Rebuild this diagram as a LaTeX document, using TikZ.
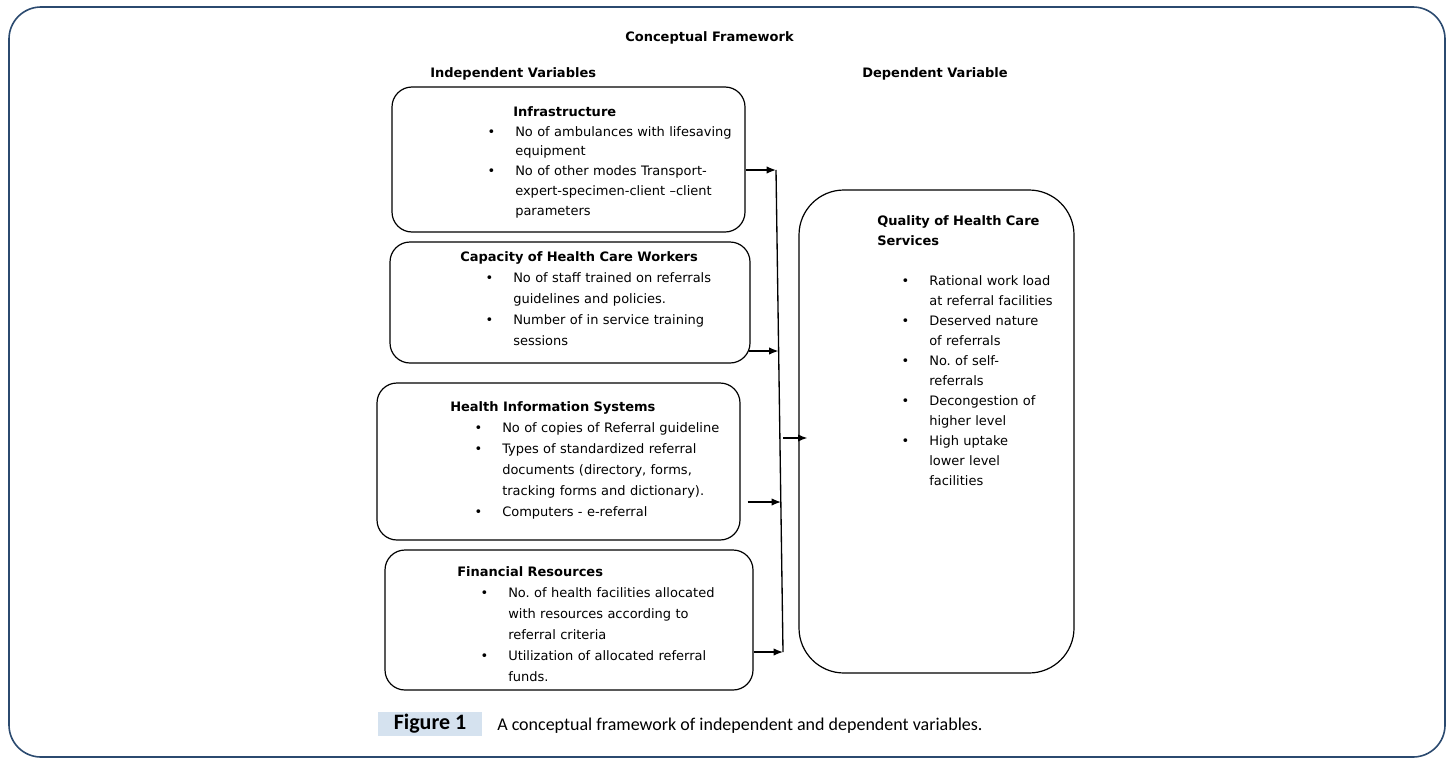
\documentclass[tikz,border=0pt]{standalone}
\usepackage{fontspec}
\setmainfont{DejaVu Sans}
\newfontfamily\capfont{Carlito}
\usetikzlibrary{arrows.meta}
\usepackage{xcolor}

\newdimen\px \px=0.75pt
\definecolor{framecol}{HTML}{2B4A6F}
\definecolor{figfill}{HTML}{D5E2EF}
\newcommand{\hd}[2]{\hspace*{#1\px}\textbf{#2}\par}
\newcommand{\bl}{\leavevmode\llap{\textbullet\hspace{20\px}}}
\setlength{\parindent}{0pt}
\frenchspacing

\begin{document}
\begin{tikzpicture}[x=0.75pt,y=-0.75pt,
	box/.style={draw,line width=0.9pt,rounded corners=20\px,inner sep=0pt},
	list/.style={anchor=base west,inner sep=0pt,text width=250\px,align=left,font=\fontsize{9.75pt}{15.7pt}\selectfont},
	head/.style={anchor=base west,inner sep=0pt,font=\fontsize{9.75pt}{12pt}\selectfont\bfseries},
	arr/.style={line width=1pt,-{Latex[length=7pt,width=5.5pt]}}]

\useasboundingbox (0,0) rectangle (1451,760);

\draw[framecol,line width=1.2pt,rounded corners=32\px] (9,7) rectangle (1445,757);%frame

\node[head] (main-title) at (625,41.5) {Conceptual Framework};
\node[head] (indep-title) at (430,77.5) {Independent Variables};
\node[head] (dep-title) at (862,77.5) {Dependent Variable};

% independent variables
\node[box,minimum width=353\px,minimum height=145\px] (infra) at (568.5,159.5) {};
\node[box,minimum width=360\px,minimum height=121\px] (capacity) at (570,302.5) {};
\node[box,minimum width=363\px,minimum height=157\px] (his) at (558.5,461.5) {};
\node[box,minimum width=368\px,minimum height=140\px] (finance) at (569,620) {};

\node[list,font=\fontsize{9.75pt}{14.8pt}\selectfont] (infra-txt) at (515,116.5) {\hd{-2}{Infrastructure}\bl No of ambulances with lifesaving\\equipment\par\bl No of other modes Transport-\\expert-specimen-client --client\\parameters};

\node[list] (capacity-txt) at (513,261.5) {\hd{-53}{Capacity of Health Care Workers}\bl No of staff trained on referrals\\guidelines and policies.\par\bl Number of in service training\\sessions};

\node[list] (his-txt) at (502,411.5) {\hd{-52}{Health Information Systems}\bl No of copies of Referral guideline\par\bl Types of standardized referral\\documents (directory, forms,\\tracking forms and dictionary).\par\bl Computers - e-referral};

\node[list] (finance-txt) at (508,576.5) {\hd{-51}{Financial Resources}\bl No. of health facilities allocated\\with resources according to\\referral criteria\par\bl Utilization of allocated referral\\funds.};

% dependent variable
\node[box,rounded corners=45\px,minimum width=275\px,minimum height=483\px] (quality) at (936.5,431.5) {};

\node[list,text width=140\px,font=\fontsize{9.75pt}{15pt}\selectfont] (quality-txt) at (929,225) {\hd{-52}{Quality of Health Care}\hd{-52}{Services}\vspace{15pt}\bl Rational work load\\at referral facilities\par\bl Deserved nature\\of referrals\par\bl No. of self-\\referrals\par\bl Decongestion of\\higher level\par\bl High uptake\\lower level\\facilities};

% connectors
\coordinate (j1) at (776,170);
\coordinate (j2) at (778.5,351);
\coordinate (j3) at (781,502);
\coordinate (j4) at (783,652);
\coordinate (jm) at (783,438);

\draw[line width=1pt] (j1) -- (j4);%bus
\draw[arr] (infra.east |- j1) -- (j1);
\draw[arr,shorten <=-2\px] (capacity.east |- j2) -- (j2);
\draw[arr,shorten <=7\px] (his.east |- j3) -- (j3);
\draw[arr] (finance.east |- j4) -- (j4);
\draw[arr,shorten >=-9\px] (jm) -- (quality.west |- jm);

% caption
\node[fill=figfill,minimum width=104\px,minimum height=24\px,inner sep=0pt,font=\capfont\fontsize{16.5pt}{18pt}\selectfont\bfseries] (fig-label) at (430,724) {Figure 1};
\node[anchor=base west,inner sep=0pt,font=\capfont\fontsize{13.5pt}{16pt}\selectfont] (fig-caption) at (497,730) {A conceptual framework of independent and dependent variables.};

\end{tikzpicture}
\end{document}
